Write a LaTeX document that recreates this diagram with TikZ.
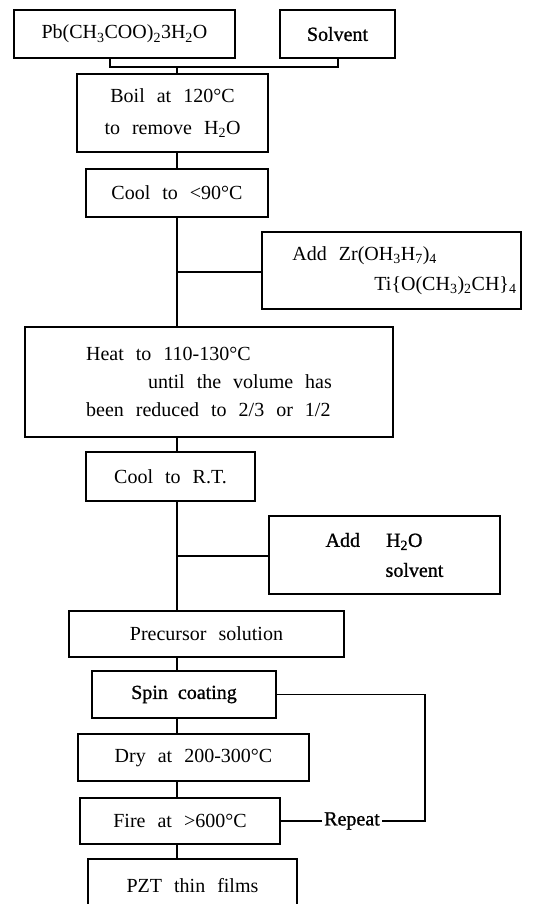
\documentclass[tikz,border=0pt]{standalone}
\usepackage{fontspec}
\setmainfont[WordSpace=2.4]{Liberation Serif}
\newfontfamily\heavyfont[WordSpace=2.0,FakeBold=1]{Liberation Serif}
\begin{document}
\begin{tikzpicture}[x=1pt,y=-1pt,
  box/.style={draw, line width=1.3pt, inner sep=0pt, font=\fontsize{20}{30}\selectfont},
  conn/.style={line width=1.3pt},
  lbl/.style={inner sep=2pt, font=\fontsize{20}{30}\selectfont}]
\useasboundingbox (0,0) rectangle (542,904);
\clip (0,0) rectangle (542,904);
% boxes
\node[box, minimum width=221, minimum height=48, text height=14pt, text depth=4pt] (pb) at (124.5,34) {Pb(CH\textsubscript{3}COO)\textsubscript{2}3H\textsubscript{2}O};
\node[box, minimum width=115, minimum height=48] (solv) at (337.5,34) {\heavyfont Solvent};
\node[box, minimum width=191, minimum height=78, align=center, font=\fontsize{20}{32}\selectfont] (boil) at (172.5,113) {Boil at 120°C\\to remove H\textsubscript{2}O};
\node[box, minimum width=182, minimum height=48] (cool1) at (177,193) {Cool to <90°C};
\node[box, minimum width=259, minimum height=77, align=left] (addzr) at (391.5,270.5) {\hspace*{26pt}Add Zr(OH\textsubscript{3}H\textsubscript{7})\textsubscript{4}\\\hspace*{108pt}Ti\{O(CH\textsubscript{3})\textsubscript{2}CH\}\textsubscript{4}};
\node[box, minimum width=368, minimum height=110, align=left, font=\fontsize{20}{28}\selectfont] (heat) at (209,382) {Heat to 110-130°C\\\hspace*{62pt}until the volume has\\been reduced to 2/3 or 1/2};
\node[box, minimum width=169, minimum height=49] (coolrt) at (170.5,476.5) {Cool to R.T.};
\node[box, minimum width=231, minimum height=78, align=left] (addh) at (384.5,555) {\heavyfont Add\hspace*{26pt}H\textsubscript{2}O\\\heavyfont\hspace*{60pt}solvent};
\node[box, minimum width=275, minimum height=46] (prec) at (206.5,634) {Precursor solution};
\node[box, minimum width=184, minimum height=47] (spin) at (184,694.5) {\heavyfont Spin coating};
\node[box, minimum width=231, minimum height=47] (dry) at (193.5,757.5) {Dry at 200-300°C};
\node[box, minimum width=200, minimum height=46] (fire) at (180,821) {Fire at >600°C};
\node[box, minimum width=209, minimum height=56, text depth=0pt] (pzt) at (192.5,887) {\raisebox{4pt}{PZT thin films}};
\node[lbl] (rep) at (352,821) {\heavyfont Repeat};
% junction coordinates
\coordinate (j0) at (177,67);
\coordinate (jl) at (110,67);
\coordinate (jr) at (338,67);
\coordinate (mx) at (177,0);
\coordinate (b1) at (177,272);
\coordinate (b2) at (177,556);
\coordinate (rc) at (425,0);
% connectors
\draw[conn] (pb.south -| jl) -- (jl) -- (jr) -- (solv.south -| jr);
\draw[conn] (j0) -- (boil.north -| j0);
\draw[conn] (boil.south -| mx) -- (cool1.north -| mx);
\draw[conn] (cool1.south -| mx) -- (heat.north -| mx);
\draw[conn] (b1) -- (addzr.west |- b1);
\draw[conn] (heat.south -| mx) -- (coolrt.north -| mx);
\draw[conn] (coolrt.south -| mx) -- (prec.north -| mx);
\draw[conn] (b2) -- (addh.west |- b2);
\draw[conn] (prec.south -| mx) -- (spin.north -| mx);
\draw[conn] (spin.south -| mx) -- (dry.north -| mx);
\draw[conn] (dry.south -| mx) -- (fire.north -| mx);
\draw[conn] (fire.south -| mx) -- (pzt.north -| mx);
\draw[conn] (spin.east) -- (spin.east -| rc) -- (rep.east -| rc) -- (rep.east);
\draw[conn] (rep.west) -- (fire.east);
\end{tikzpicture}
\end{document}
